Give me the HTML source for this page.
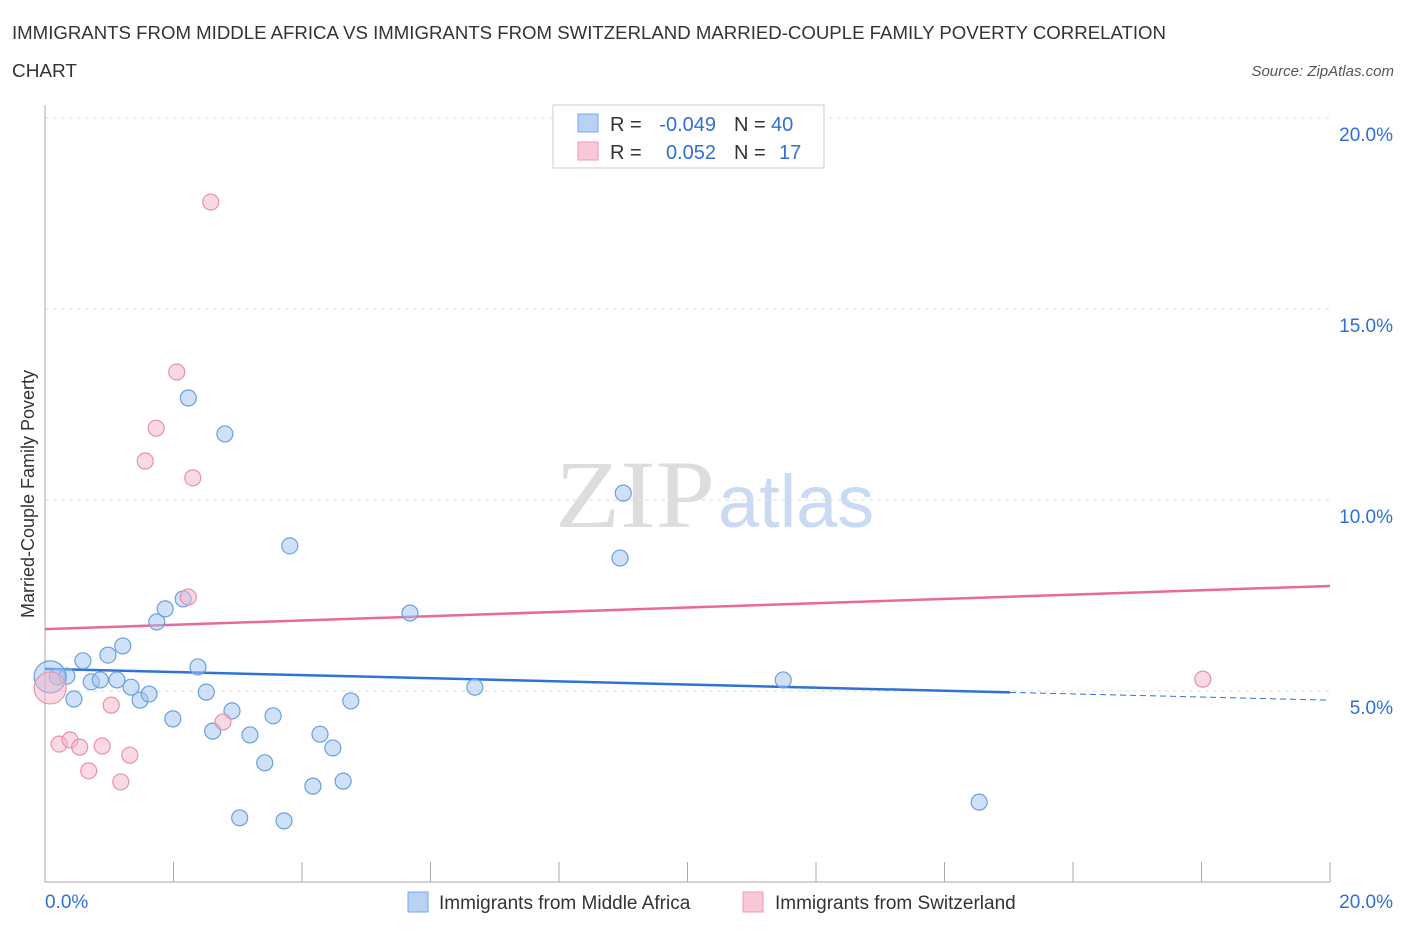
<!DOCTYPE html>
<html><head><meta charset="utf-8"><style>
body{margin:0;background:#fff;font-family:"Liberation Sans",sans-serif;}
</style></head><body>
<svg id="chart" width="1406" height="930" xmlns="http://www.w3.org/2000/svg" font-family="Liberation Sans, sans-serif">
<text x="12" y="39" font-size="18" fill="#333" textLength="1154" lengthAdjust="spacingAndGlyphs">IMMIGRANTS FROM MIDDLE AFRICA VS IMMIGRANTS FROM SWITZERLAND MARRIED-COUPLE FAMILY POVERTY CORRELATION</text>
<text x="12" y="77" font-size="18" fill="#333" textLength="65" lengthAdjust="spacingAndGlyphs">CHART</text>
<text x="1394" y="76" font-size="15" fill="#555" font-style="italic" text-anchor="end">Source: ZipAtlas.com</text>
<text x="555" y="527" font-size="96" fill="#ddd" style="font-family:'Liberation Serif',serif" textLength="160" lengthAdjust="spacingAndGlyphs">ZIP</text>
<text x="718" y="527" font-size="74" fill="#c9daf2">atlas</text>
<g id="grid"></g><g id="axes"></g><g id="lines"></g><g id="points"></g>
<text transform="translate(34,494) rotate(-90)" font-size="18" fill="#333" text-anchor="middle">Married-Couple Family Poverty</text>
<g font-size="20">
<rect x="553" y="105" width="271" height="63" fill="#fff" stroke="#ccc"/>
<rect x="578" y="114" width="20" height="18" fill="#b8d2f5" stroke="#7aa7e6"/>
<rect x="578" y="142" width="20" height="18" fill="#f9c8d6" stroke="#ee9ab5"/>
<text x="610" y="131" fill="#333">R =</text>
<text x="716" y="131" fill="#2f6fd6" text-anchor="end">-0.049</text>
<text x="734" y="131" fill="#333">N =</text>
<text x="771" y="131" fill="#2f6fd6">40</text>
<text x="610" y="159" fill="#333">R =</text>
<text x="716" y="159" fill="#2f6fd6" text-anchor="end">0.052</text>
<text x="734" y="159" fill="#333">N =</text>
<text x="779" y="159" fill="#2f6fd6">17</text>
</g>
<g>
<rect x="408" y="892" width="20" height="20" fill="#b8d2f5" stroke="#7aa7e6"/>
<text x="439" y="909" font-size="19" fill="#333">Immigrants from Middle Africa</text>
<rect x="743" y="892" width="20" height="20" fill="#f9c8d6" stroke="#ee9ab5"/>
<text x="775" y="909" font-size="19" fill="#333">Immigrants from Switzerland</text>
</g>
</svg>
<script>
const blueX=[0.19,0.34,0.45,0.59,0.72,0.86,0.98,1.12,1.21,1.34,1.48,1.62,1.74,1.87,1.99,2.15,2.23,2.38,2.51,2.61,2.80,2.91,3.19,3.42,3.55,3.72,3.81,4.17,4.28,4.48,4.64,4.76,3.03,5.68,6.69,8.95,9.00,11.49,14.54,0.08];
const blueY=[5.37,5.39,4.79,5.79,5.24,5.29,5.94,5.29,6.18,5.10,4.76,4.92,6.81,7.15,4.27,7.41,12.67,5.63,4.97,3.95,11.73,4.48,3.85,3.12,4.35,1.60,8.80,2.51,3.87,3.51,2.64,4.74,1.68,7.04,5.10,8.48,10.18,5.29,2.09,5.37];
const pinkX=[0.08,0.22,0.39,0.54,0.68,0.89,1.03,1.18,1.32,1.56,1.73,2.05,2.23,2.30,2.58,2.77,18.02];
const pinkY=[5.08,3.61,3.72,3.53,2.91,3.56,4.63,2.62,3.32,11.02,11.88,13.35,7.46,10.58,17.80,4.19,5.31];
const yTicks=[5,10,15,20];
const yTickLabels=["5.0%","10.0%","15.0%","20.0%"];
const blueTrend=[5.58,4.76];
const pinkTrend=[6.62,7.75];
const NS="http://www.w3.org/2000/svg";
const sx=v=>45+v/20*1285, sy=v=>882-v/5*191;
function mk(parent,tag,attrs){const e=document.createElementNS(NS,tag);for(const k in attrs)e.setAttribute(k,attrs[k]);document.getElementById(parent).appendChild(e);return e;}
yTicks.forEach((t,i)=>{
 const g=mk('grid','line',{x1:45,x2:1330,y1:sy(t),y2:sy(t),stroke:'#ddd','stroke-dasharray':'4,4'});
 
 
 const l=mk('grid','text',{x:1393,y:sy(t)+23,'font-size':19,fill:'#2f6fd6','text-anchor':'end'});
 l.textContent=yTickLabels[i];
 
 
});
let ya=mk('axes','line',{x1:45,x2:45,y1:105,y2:882,stroke:'#aaa'});


let xa=mk('axes','line',{x1:45,x2:1330,y1:882,y2:882,stroke:'#aaa'});


for(let v=0;v<=20;v+=2){const t=mk('axes','line',{x1:sx(v),x2:sx(v),y1:862,y2:882,stroke:'#aaa'});
 
 }
let x0=mk('axes','text',{x:45,y:908,'font-size':19,fill:'#2f6fd6'});x0.textContent='0.0%';


let x1=mk('axes','text',{x:1393,y:908,'font-size':19,fill:'#2f6fd6','text-anchor':'end'});x1.textContent='20.0%';


const bMid=blueTrend[0]+(blueTrend[1]-blueTrend[0])*0.751;
let bl=mk('lines','line',{x1:sx(0),y1:sy(blueTrend[0]),x2:sx(15.02),y2:sy(bMid),stroke:'#2f72d6','stroke-width':2.5});


let bd=mk('lines','line',{x1:sx(15.02),y1:sy(bMid),x2:sx(20),y2:sy(blueTrend[1]),stroke:'#2f72d6','stroke-width':1,'stroke-dasharray':'6,4'});


let pl=mk('lines','line',{x1:sx(0),y1:sy(pinkTrend[0]),x2:sx(20),y2:sy(pinkTrend[1]),stroke:'#e8699a','stroke-width':2.5});


blueX.forEach((x,i)=>{const big=i===blueX.length-1;
 const c=mk('points','circle',{cx:sx(x),cy:sy(blueY[i]),r:big?16:8,fill:'rgba(160,196,240,0.5)',stroke:'#6a9fe0','stroke-width':1.2});
 
 });
pinkX.forEach((x,i)=>{const big=i===0;
 const c=mk('points','circle',{cx:sx(x),cy:sy(pinkY[i]),r:big?16:8,fill:'rgba(245,180,200,0.5)',stroke:'#e890b0','stroke-width':1.2});
 
 });
</script>
</body></html>
